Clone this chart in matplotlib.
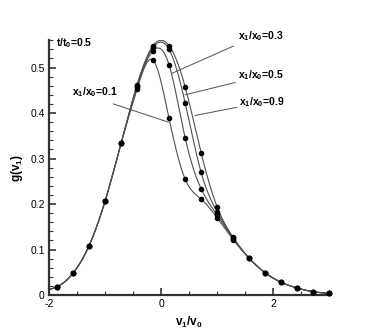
import numpy as np
import matplotlib
matplotlib.use("Agg")
import matplotlib.pyplot as plt
from matplotlib.ticker import MultipleLocator

plt.rcParams['font.family'] = ['Liberation Sans', 'DejaVu Sans']
plt.rcParams['mathtext.fontset'] = 'custom'
plt.rcParams['mathtext.rm'] = 'Liberation Sans'
plt.rcParams['mathtext.bf'] = 'Liberation Sans:bold'

# symbol positions (v1/v0) and g(v1) for each x1/x0
v_sym = [-1.857, -1.571, -1.286, -1.0, -0.714, -0.429, -0.143, 0.143, 0.429,
         0.714, 1.0, 1.286, 1.571, 1.857, 2.143, 2.429, 2.714, 3.0]
g_01 = [0.018, 0.048, 0.108, 0.206, 0.333, 0.452, 0.516, 0.388, 0.255,
        0.211, 0.170, 0.122, 0.081, 0.049, 0.028, 0.0154, 0.0073, 0.0037]
g_03 = [0.018, 0.048, 0.108, 0.206, 0.333, 0.457, 0.537, 0.506, 0.346,
        0.234, 0.176, 0.124, 0.081, 0.049, 0.028, 0.0154, 0.0073, 0.0037]
g_05 = [0.018, 0.048, 0.108, 0.206, 0.333, 0.460, 0.544, 0.540, 0.423,
        0.270, 0.183, 0.126, 0.081, 0.049, 0.028, 0.0154, 0.0073, 0.0037]
g_09 = [0.018, 0.048, 0.108, 0.206, 0.333, 0.462, 0.548, 0.548, 0.458,
        0.313, 0.194, 0.127, 0.081, 0.049, 0.028, 0.0154, 0.0073, 0.0037]
# line starts at the axis edge
v_start = -2.0
g_start = 0.012

labels = ['x$_\\mathbf{1}$/x$_\\mathbf{0}$=0.1', 'x$_\\mathbf{1}$/x$_\\mathbf{0}$=0.3',
          'x$_\\mathbf{1}$/x$_\\mathbf{0}$=0.5', 'x$_\\mathbf{1}$/x$_\\mathbf{0}$=0.9']


def spline(x, y, n=600):
    # natural cubic spline through the points
    x = np.asarray(x, float)
    y = np.asarray(y, float)
    m = len(x)
    h = np.diff(x)
    A = np.zeros((m, m))
    b = np.zeros(m)
    A[0, 0] = A[-1, -1] = 1
    for i in range(1, m - 1):
        A[i, i - 1] = h[i - 1]
        A[i, i] = 2 * (h[i - 1] + h[i])
        A[i, i + 1] = h[i]
        b[i] = 6 * ((y[i + 1] - y[i]) / h[i] - (y[i] - y[i - 1]) / h[i - 1])
    M = np.linalg.solve(A, b)
    xs = np.linspace(x[0], x[-1], n)
    k = np.clip(np.searchsorted(x, xs) - 1, 0, m - 2)
    t1 = x[k + 1] - xs
    t0 = xs - x[k]
    ys = (M[k] * t1**3 + M[k + 1] * t0**3) / (6 * h[k]) \
        + (y[k] / h[k] - M[k] * h[k] / 6) * t1 \
        + (y[k + 1] / h[k] - M[k + 1] * h[k] / 6) * t0
    return xs, ys


fig = plt.figure(figsize=(3.74, 3.32), dpi=100)
ax = fig.add_axes([0.131, 0.1114, 0.749, 0.7675])

for g in [g_01, g_03, g_05, g_09]:
    xs, ys = spline([v_start] + v_sym, [g_start] + g)
    ax.plot(xs, ys, color='#505050', lw=0.8, zorder=2)
    ax.plot(v_sym, g, 'o', color='black', ms=3.0, zorder=3, clip_on=False)

ax.set_xlim(-2, 3)
ax.set_ylim(0, 0.56)
ax.xaxis.set_minor_locator(MultipleLocator(0.5))
ax.yaxis.set_minor_locator(MultipleLocator(0.02))
ax.set_xticks([-2, 0, 2])
ax.set_xticklabels(['-2', '0', '2'])
ax.set_yticks([0, 0.1, 0.2, 0.3, 0.4, 0.5])
ax.set_yticklabels(['0', '0.1', '0.2', '0.3', '0.4', '0.5'])

for s in ['top', 'right']:
    ax.spines[s].set_visible(False)
for s in ['left', 'bottom']:
    ax.spines[s].set_linewidth(1.6)
    ax.spines[s].set_color('#333333')
ax.tick_params(which='both', direction='in', color='#333333', labelsize=7.5, pad=3)
ax.tick_params(which='major', length=5, width=1.2)
ax.tick_params(which='minor', length=3, width=0.8)

ax.set_xlabel('$\\mathbf{v_1/v_0}$', fontsize=8.5, labelpad=4)
ax.set_ylabel('$\\mathbf{g(v_1)}$', fontsize=8.5, labelpad=4)

ax.text(-1.875, 0.554, 't/t$_\\mathbf{0}$=0.5', fontsize=7.5, fontweight='bold',
        va='center', ha='left')

# labels with pointer lines
lab_pos = [(-1.589, 0.446), (1.375, 0.569), (1.37, 0.4835), (1.393, 0.424)]
ptr = [((-0.852, 0.420), (0.130, 0.380)),
       ((1.291, 0.547), (0.191, 0.487)),
       ((1.321, 0.467), (0.429, 0.440)),
       ((1.352, 0.4125), (0.607, 0.3945))]
for lab, (lx, ly), (p0, p1) in zip(labels, lab_pos, ptr):
    ax.text(lx, ly, lab, fontsize=7.5, fontweight='bold', va='center', ha='left',
            clip_on=False)
    ax.plot([p0[0], p1[0]], [p0[1], p1[1]], color='#505050', lw=0.7, clip_on=False)

fig.savefig('out.png', dpi=100)
